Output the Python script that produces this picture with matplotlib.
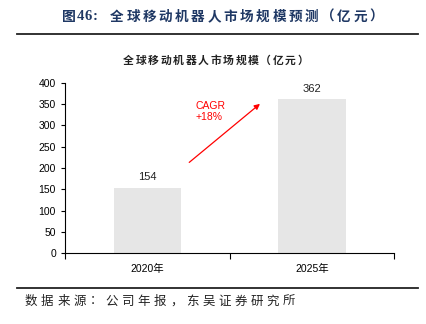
import matplotlib.pyplot as plt
from matplotlib.ticker import FixedLocator

plt.rcParams['font.family'] = ['Liberation Sans', 'Noto Sans CJK SC', 'DejaVu Sans']

# data
years = ['2020年', '2025年']
market = [154, 362]
yticks = [0, 50, 100, 150, 200, 250, 300, 350, 400]

W, H = 426, 324
fig = plt.figure(figsize=(W / 100, H / 100), dpi=100)
ax = fig.add_axes([0.1526, 0.219, 0.7724, 0.525])
renderer = fig.canvas.get_renderer()


def spaced_text(x_px, y_px, s, track, **kw):
    """draw a string char by char with extra spacing (pixels), left aligned"""
    x = x_px
    for ch in s:
        t = fig.text(x / W, 1 - y_px / H, ch, ha='left', va='center', **kw)
        w = t.get_window_extent(renderer).width
        x += w + track
    return x


x = list(range(len(years)))
ax.bar(x, market, width=0.41, color='#e6e6e6')
for xi, v in zip(x, market):
    ax.text(xi, v + 12, str(v), ha='center', va='bottom', fontsize=8, color='#222222')

ax.set_xlim(-0.5, 1.5)
ax.set_ylim(0, 400)
ax.set_yticks(yticks)
ax.set_xticks(x)
ax.set_xticklabels(years, fontsize=7.5, family=['Liberation Sans', 'Noto Sans CJK SC'])
ax.xaxis.set_minor_locator(FixedLocator([-0.5, 0.5, 1.5]))
ax.tick_params(axis='x', which='major', length=0, pad=8)
ax.tick_params(axis='x', which='minor', length=4, width=0.8, direction='out')
ax.tick_params(axis='y', labelsize=7.5, length=3, width=0.8, direction='out')
for s in ['top', 'right']:
    ax.spines[s].set_visible(False)
ax.spines['left'].set_linewidth(0.8)
ax.spines['bottom'].set_linewidth(0.8)

# CAGR arrow
ax.annotate('', xy=(0.698, 355), xytext=(0.242, 209),
            arrowprops=dict(arrowstyle='-|>', color='#ff0000', lw=0.9, mutation_scale=8))
ax.text(0.296, 332, 'CAGR\n+18%', color='#ff0000', fontsize=7.5, ha='left', va='center',
        linespacing=1.1)

# subtitle
spaced_text(123, 61, '全球移动机器人市场规模（亿元）', 1.6, fontsize=7.8,
            family=['Noto Sans CJK SC'], fontweight='bold', color='#222222')

# header
hx = spaced_text(62, 17, '图', 1, fontsize=10, fontweight='bold', color='#1f3864',
                 family=['Noto Sans CJK SC'])
hx = spaced_text(hx, 17, '46:', 0.5, fontsize=10.5, fontweight='bold', color='#1f3864',
                 family=['Liberation Serif'])
spaced_text(110, 17, '全球移动机器人市场规模预测（亿元）', 2.6, fontsize=9.8,
            fontweight='bold', color='#1f3864', family=['Noto Sans CJK SC'])
fig.add_artist(plt.Line2D([0.04, 0.982], [0.895, 0.895], color='#222222', lw=1.3))
fig.add_artist(plt.Line2D([0.04, 0.982], [0.111, 0.111], color='#222222', lw=1.3))
spaced_text(25, 301, '数据来源：公司年报，东吴证券研究所', 3.6, fontsize=9,
            color='#222222', family=['Noto Sans CJK SC'])

plt.savefig('out.png', dpi=100)
